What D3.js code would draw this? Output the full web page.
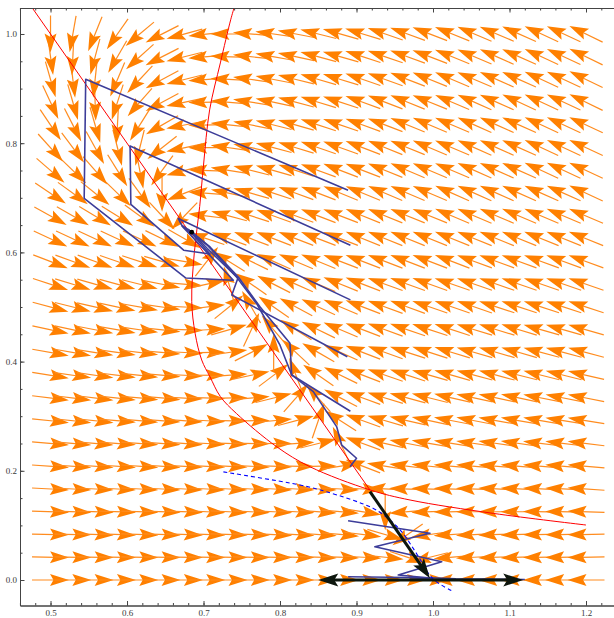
<!DOCTYPE html>
<html>
<head>
<meta charset="utf-8">
<script src="https://cdn.jsdelivr.net/npm/d3@7"></script>
<style>
  body { margin: 0; background: #fff; }
  .tick text { font-family: "Liberation Serif", "DejaVu Serif", serif; font-size: 9px; fill: #3a3a3a; }
</style>
</head>
<body>
<svg id="chart" width="614" height="618"></svg>
<script>
// grid of the direction field
const gridX = [0.5, 0.5292, 0.5583, 0.5875, 0.6167, 0.6458, 0.675, 0.7042, 0.7333, 0.7625, 0.7917, 0.8208, 0.85,
  0.8792, 0.9083, 0.9375, 0.9667, 0.9958, 1.025, 1.0542, 1.0833, 1.1125, 1.1417, 1.1708, 1.2];
const gridY = [0, 0.0417, 0.0833, 0.125, 0.1667, 0.2083, 0.25, 0.2917, 0.3333, 0.375, 0.4167, 0.4583, 0.5,
  0.5417, 0.5833, 0.625, 0.6667, 0.7083, 0.75, 0.7917, 0.8333, 0.875, 0.9167, 0.9583, 1.0];

// arrow direction (degrees, screen, counter-clockwise from +x), one row per gridY, bottom row first
const angles = [
  [0,0,0,0,0,0,0,0,0,0,0,0,0,0,0,0,0,0,180,180,180,180,180,180,180],
  [-1,-1,-1,-1,-1,-1,-1,-1,-1,-1,-1,-1,-2,-2,-3,-6,-18,-166,-175,-177,-178,-178,-179,-179,-179],
  [-1,-1,-2,-2,-2,-2,-2,-2,-2,-2,-3,-3,-4,-5,-7,-16,-145,-172,-176,-177,-178,-178,-179,-179,-179],
  [-2,-2,-2,-2,-2,-2,-2,-3,-3,-3,-3,-3,-4,-5,-9,-90,-175,-178,-179,180,180,180,179,179,178],
  [-3,-3,-3,-3,-3,-3,-3,-3,-3,-3,-3,-3,-3,-3,-3,177,178,178,178,178,177,177,177,177,176],
  [-4,-4,-4,-4,-4,-4,-3,-3,-3,-3,-2,-1,1,9,159,171,173,174,175,175,175,175,175,175,175],
  [-5,-5,-5,-4,-4,-4,-4,-3,-2,-1,0,4,14,115,160,167,169,170,171,172,172,172,173,173,173],
  [-6,-6,-6,-5,-5,-4,-4,-3,-1,1,5,15,71,147,160,164,167,168,169,169,170,170,170,171,171],
  [-7,-7,-7,-6,-5,-5,-3,-2,1,5,14,49,131,153,160,163,165,166,167,168,168,168,169,169,169],
  [-9,-8,-8,-7,-6,-5,-3,0,4,12,37,111,145,154,159,161,162,164,164,165,165,166,166,166,167],
  [-10,-10,-9,-8,-7,-5,-3,1,8,27,90,137,150,156,159,160,162,162,163,164,164,164,165,165,165],
  [-12,-12,-11,-10,-8,-6,-2,3,16,65,130,147,154,157,159,160,161,162,162,163,163,163,164,164,164],
  [-15,-14,-13,-12,-10,-8,-3,7,39,120,145,152,155,157,159,160,160,161,161,161,162,162,162,162,162],
  [-18,-17,-16,-15,-14,-11,-5,12,106,145,153,156,157,158,159,160,160,160,161,161,161,161,161,161,161],
  [-21,-20,-20,-19,-18,-16,-10,52,148,154,156,157,158,159,159,159,159,159,159,160,160,160,160,160,160],
  [-25,-25,-25,-25,-25,-26,-30,162,160,159,159,159,159,159,158,158,158,158,158,158,158,158,158,158,158],
  [-29,-30,-31,-32,-36,-47,-134,173,165,162,160,160,159,159,158,158,158,158,157,157,157,157,157,157,157],
  [-34,-36,-39,-44,-54,-90,-159,176,168,164,162,160,159,158,158,157,157,157,156,156,156,156,156,156,155],
  [-41,-44,-49,-58,-79,-126,-165,178,171,166,164,162,160,159,159,158,157,157,157,156,156,156,155,155,155],
  [-48,-53,-61,-76,-104,-142,-168,180,172,168,165,163,161,160,159,158,158,157,157,156,156,156,155,155,155],
  [-56,-63,-74,-93,-122,-150,-169,-179,174,169,166,164,162,161,160,159,158,157,157,156,156,156,155,155,155],
  [-65,-74,-88,-108,-131,-152,-168,-179,175,171,168,165,163,162,160,159,158,158,157,156,156,155,155,155,154],
  [-74,-83,-96,-113,-133,-152,-166,-176,177,172,169,166,164,163,161,160,159,158,157,157,156,156,155,155,154],
  [-82,-93,-105,-120,-138,-153,-166,-175,178,174,170,168,165,164,162,161,160,159,158,157,156,156,155,155,154],
  [-90,-100,-112,-125,-140,-153,-165,-174,180,175,172,169,166,164,163,161,160,159,158,157,157,156,155,155,154]
];

// nullclines
const nullclineX = [[0.4762, 1.0476], [0.6846, 0.6308], [0.9176, 0.1648]];
const nullclineY = [[0.740, 1.048], [0.7355, 1.026], [0.722, 0.947], [0.708, 0.861], [0.700, 0.76], [0.695, 0.684],
  [0.688, 0.60], [0.6846, 0.51], [0.689, 0.452], [0.6976, 0.403], [0.7085, 0.372], [0.722, 0.336], [0.743, 0.305],
  [0.7957, 0.244], [0.839, 0.2075], [0.9176, 0.165], [0.97, 0.1465], [1.0788, 0.122], [1.2, 0.1007]];

// separatrix (dashed)
const separatrix = [[0.726, 0.198], [0.826, 0.174], [0.86, 0.162], [0.922, 0.131], [0.945, 0.108], [0.961, 0.085],
  [0.98, 0.045], [1.0, 0.002], [1.0265, -0.021]];

// iterated orbits
const orbits = [
  [[0.889, 0.714], [0.546, 0.917], [0.544, 0.699], [0.677, 0.553], [0.739, 0.549], [0.672, 0.648], [0.690, 0.630], [0.6846, 0.637]],
  [[0.892, 0.613], [0.604, 0.795], [0.605, 0.688], [0.674, 0.604], [0.7085, 0.597], [0.680, 0.642], [0.6846, 0.637]],
  [[0.892, 0.513], [0.667, 0.662], [0.6715, 0.650], [0.6846, 0.637]],
  [[0.888, 0.409], [0.737, 0.522], [0.745, 0.553], [0.705, 0.607], [0.6846, 0.637]],
  [[0.892, 0.309], [0.8153, 0.3755], [0.813, 0.4335], [0.774, 0.50], [0.7455, 0.555], [0.7085, 0.61], [0.6846, 0.637]],
  [[0.8915, 0.2075], [0.900, 0.223], [0.8807, 0.247], [0.874, 0.281], [0.8435, 0.345], [0.8153, 0.3755], [0.80, 0.43],
   [0.77, 0.505], [0.742, 0.557], [0.706, 0.612], [0.6846, 0.637]],
  [[0.889, 0.1086], [0.996, 0.0855], [0.924, 0.061], [1.0114, 0.0335], [0.9546, 0.0092], [0.996, 0.0037], [0.97, 0.004], [1.0, 0.002]],
  [[0.889, 0.006], [0.996, 0.004], [1.03, 0.002], [1.12, 0.001]]
];

const equilibrium = [0.6846, 0.637];
// eigen-direction arrows [from, to]
const eigenArrows = [
  [[0.9176, 0.1617], [0.996, 0.003]],
  [[1.0, 0.0], [0.85, 0.0]],
  [[1.0, 0.0], [1.118, 0.0]]
];

const xMajor = [0.5, 0.6, 0.7, 0.8, 0.9, 1.0, 1.1, 1.2];
const yMajor = [0.0, 0.2, 0.4, 0.6, 0.8, 1.0];

const svg = d3.select("#chart");
const W = 614, H = 618;
const pLeft = 20, pRight = 614, pTop = 8, pBottom = 605.5;

const x = d3.scaleLinear().domain([0.4601, 1.2366]).range([pLeft, pRight]);
const y = d3.scaleLinear().domain([-0.0467, 1.0476]).range([pBottom, pTop]);

svg.append("rect").attr("width", W).attr("height", H).attr("fill", "#fff");

svg.append("clipPath").attr("id", "plot")
  .append("rect").attr("x", pLeft).attr("y", pTop).attr("width", pRight - pLeft).attr("height", pBottom - pTop);

const plot = svg.append("g").attr("clip-path", "url(#plot)");

// direction field
const L = 37, HL = 19, HW = 12;
const field = [];
angles.forEach((row, j) => row.forEach((a, i) => field.push({ i, j, a })));

const arrows = plot.append("g").selectAll("g")
  .data(field)
  .join("g")
  .attr("transform", d => `translate(${x(gridX[d.i])},${y(gridY[d.j])}) rotate(${-d.a})`);

arrows.append("line")
  .attr("x1", -L / 2).attr("y1", 0)
  .attr("x2", L / 2 - HL * 0.7).attr("y2", 0)
  .attr("stroke", "#ff8c1f").attr("stroke-width", 1.2);

arrows.append("path")
  .attr("d", `M${L / 2},0 L${L / 2 - HL},${-HW / 2} L${L / 2 - HL * 0.82},0 L${L / 2 - HL},${HW / 2} Z`)
  .attr("fill", "#ff8000");

// nullclines
const line = d3.line().x(d => x(d[0])).y(d => y(d[1]));
const smooth = d3.line().x(d => x(d[0])).y(d => y(d[1])).curve(d3.curveCatmullRom);

plot.append("path").attr("d", line(nullclineX))
  .attr("fill", "none").attr("stroke", "#ff0000").attr("stroke-width", 1);
plot.append("path").attr("d", smooth(nullclineY))
  .attr("fill", "none").attr("stroke", "#ff0000").attr("stroke-width", 1);

// orbits
plot.append("g").selectAll("path")
  .data(orbits)
  .join("path")
  .attr("d", line)
  .attr("fill", "none")
  .attr("stroke", "#3d3d99")
  .attr("stroke-width", 1.6)
  .attr("stroke-linejoin", "round");

// separatrix
plot.append("path").attr("d", smooth(separatrix))
  .attr("fill", "none").attr("stroke", "#0000ff").attr("stroke-width", 1.1)
  .attr("stroke-dasharray", "4,3");

// eigen arrows
const eg = plot.append("g");
eigenArrows.forEach(([p0, p1]) => {
  const x0 = x(p0[0]), y0 = y(p0[1]), x1 = x(p1[0]), y1 = y(p1[1]);
  const ang = Math.atan2(y1 - y0, x1 - x0) * 180 / Math.PI;
  const len = Math.hypot(x1 - x0, y1 - y0);
  const g = eg.append("g").attr("transform", `translate(${x0},${y0}) rotate(${ang})`);
  g.append("line").attr("x1", 0).attr("y1", 0).attr("x2", len - 14).attr("y2", 0)
    .attr("stroke", "#0d160d").attr("stroke-width", 3);
  g.append("path")
    .attr("d", `M${len},0 L${len - 20},-6.5 L${len - 16},0 L${len - 20},6.5 Z`)
    .attr("fill", "#0d160d");
});

plot.append("circle")
  .attr("cx", x(equilibrium[0])).attr("cy", y(equilibrium[1])).attr("r", 2.4)
  .attr("fill", "#000");

// frame and ticks
function style(g) {
  g.select(".domain").attr("stroke", "#444");
  g.selectAll(".tick line").attr("stroke", "#444");
}
const xMinor = d3.range(0.46, 1.2301, 0.02);
const yMinor = d3.range(0.0, 1.0401, 0.05);

svg.append("g").attr("transform", `translate(0,${pBottom})`)
  .call(d3.axisBottom(x).tickValues(xMinor).tickSize(-2.5).tickSizeOuter(0).tickFormat(""))
  .call(style);
svg.append("g").attr("transform", `translate(0,${pBottom})`)
  .call(d3.axisBottom(x).tickValues(xMajor).tickSize(-4.5).tickSizeOuter(0).tickPadding(4).tickFormat(d3.format(".1f")))
  .call(style);

svg.append("g").attr("transform", `translate(0,${pTop})`)
  .call(d3.axisTop(x).tickValues(xMinor).tickSize(-2.5).tickSizeOuter(0).tickFormat(""))
  .call(style);
svg.append("g").attr("transform", `translate(0,${pTop})`)
  .call(d3.axisTop(x).tickValues(xMajor).tickSize(-4.5).tickSizeOuter(0).tickFormat(""))
  .call(style);

svg.append("g").attr("transform", `translate(${pLeft},0)`)
  .call(d3.axisLeft(y).tickValues(yMinor).tickSize(-2.5).tickSizeOuter(0).tickFormat(""))
  .call(style);
svg.append("g").attr("transform", `translate(${pLeft},0)`)
  .call(d3.axisLeft(y).tickValues(yMajor).tickSize(-4.5).tickSizeOuter(0).tickPadding(3).tickFormat(d3.format(".1f")))
  .call(style);
</script>
</body>
</html>
